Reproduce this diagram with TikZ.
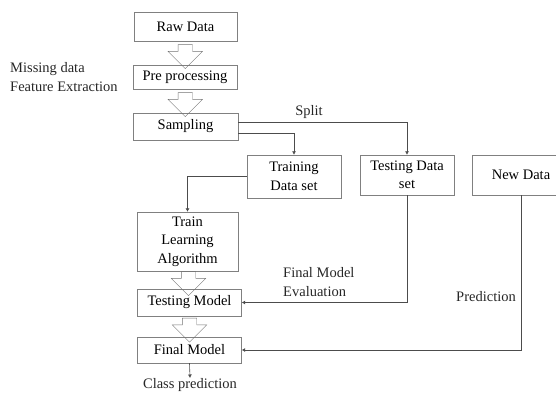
\documentclass[tikz,border=0pt]{standalone}
\usepackage{fontspec}
\setmainfont{Liberation Serif}
\usepackage{tikz}
\usetikzlibrary{arrows.meta,positioning,shapes.arrows,calc}
\begin{document}
\begin{tikzpicture}[x=1pt,y=-1pt,
font=\fontsize{14.5}{18.5}\selectfont,
box/.style={draw=black!50,align=center,inner sep=0pt},
blockarr/.style={draw=black!55,single arrow,shape border rotate=270,inner sep=7pt,minimum height=24pt,minimum width=34pt,single arrow head extend=10pt,single arrow head indent=0pt},
arr/.style={-{Latex[length=3.5pt,width=4pt]},draw=black!70,semithick},
lbl/.style={align=left,inner sep=0pt,text=black!85}]
\useasboundingbox(0,0)rectangle(556,397);
\node[box,minimum width=103pt,minimum height=29pt](raw)at(185.5,26.5){Raw Data};
\node[box,minimum width=104pt,minimum height=24pt](prep)at(185,77){Pre processing};
\node[box,minimum width=105pt,minimum height=27pt](samp)at(185.5,126.5){Sampling};
\node[box,minimum width=94pt,minimum height=43pt](train)at(294,176.5){Training\\Data set};
\node[box,minimum width=94pt,minimum height=40pt](test)at(407,175){Testing Data\\set};
\node[box,minimum width=98pt,minimum height=40pt](new)at(521,175){New Data};
\node[box,minimum width=101pt,minimum height=59pt](algo)at(187.5,241.5){Train\\Learning\\Algorithm};
\node[box,minimum width=104pt,minimum height=27pt](tmodel)at(189.5,302.5){Testing Model};
\node[box,minimum width=104pt,minimum height=26pt](fmodel)at(189.5,350){Final Model};
\node[lbl,anchor=west](miss)at(10,77){Missing data\\Feature Extraction};
\node[lbl](split)at(309,112){Split};
\node[lbl,anchor=west](eval)at(283,282){Final Model\\Evaluation};
\node[lbl](pred)at(486,297){Prediction};
\node[lbl,anchor=north](cls)at(190,378){Class prediction};
\node[blockarr]at($(raw.south)!0.5!(prep.north)$){};
\node[blockarr]at($(prep.south)!0.5!(samp.north)$){};
\node[blockarr]at($(algo.south)!0.5!(tmodel.north)$){};
\node[blockarr]at($(tmodel.south)!0.5!(fmodel.north)$){};
\draw[arr]([yshift=4.5pt]samp.east)-|(test.north);
\draw[arr]([yshift=-6.5pt]samp.east)-|(train.north);
\draw[arr](train.west)-|(algo.north);
\draw[arr](test.south)|-(tmodel.east);
\draw[arr](new.south)|-(fmodel.east);
\draw[arr](fmodel.south)--(cls.north);
\end{tikzpicture}
\end{document}
